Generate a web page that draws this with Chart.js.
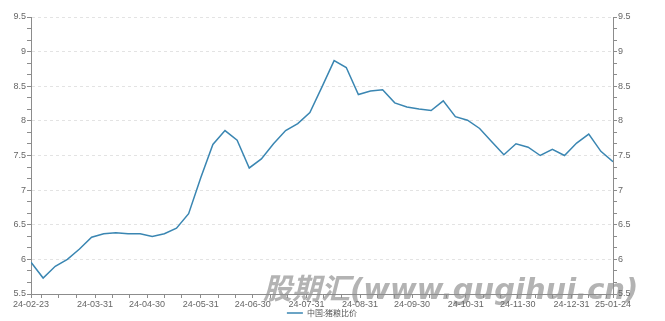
<!DOCTYPE html>
<html>
<head>
<meta charset="utf-8">
<script src="https://cdn.jsdelivr.net/npm/chart.js@4"></script>
<style>
  html, body { margin: 0; padding: 0; background: #fff; }
  #wrap { width: 665px; height: 321px; }
</style>
</head>
<body>
<div id="wrap"><canvas id="myChart" width="665" height="321"></canvas></div>
<script>
// weekly dates and 猪粮比价 values
var fechas = ["2024-02-23","2024-03-01","2024-03-08","2024-03-15","2024-03-22","2024-03-29",
  "2024-04-05","2024-04-12","2024-04-19","2024-04-26","2024-05-03","2024-05-10","2024-05-17",
  "2024-05-24","2024-05-31","2024-06-07","2024-06-14","2024-06-21","2024-06-28","2024-07-05",
  "2024-07-12","2024-07-19","2024-07-26","2024-08-02","2024-08-09","2024-08-16","2024-08-23",
  "2024-08-30","2024-09-06","2024-09-13","2024-09-20","2024-09-27","2024-10-04","2024-10-11",
  "2024-10-18","2024-10-25","2024-11-01","2024-11-08","2024-11-15","2024-11-22","2024-11-29",
  "2024-12-06","2024-12-13","2024-12-20","2024-12-27","2025-01-03","2025-01-10","2025-01-17",
  "2025-01-24"];
var valores = [5.96,5.73,5.90,6.00,6.15,6.32,6.37,6.385,6.37,6.37,6.33,6.37,6.45,
  6.66,7.18,7.66,7.86,7.72,7.32,7.45,7.67,7.86,7.96,8.12,8.49,8.87,8.77,
  8.38,8.43,8.45,8.26,8.20,8.17,8.15,8.29,8.06,8.01,7.89,7.70,7.51,7.67,
  7.62,7.50,7.59,7.50,7.68,7.81,7.56,7.41];
var serie = "中国:猪粮比价";
var yMin = 5.5, yMax = 9.5;

// days since the first date
function dias(s) {
  var p = s.split("-");
  return (Date.UTC(+p[0], +p[1] - 1, +p[2]) - Date.UTC(2024, 1, 23)) / 86400000;
}
var fin = dias(fechas[fechas.length - 1]);

// x ticks: start, 10th, 20th, month end, last date
var xTicks = [{ value: 0, label: "24-02-23" }];
for (var m = 1; m <= 12; m++) {
  var yy = 2024 + Math.floor(m / 12), mm = m % 12;
  var ult = new Date(Date.UTC(yy, mm + 1, 0)).getUTCDate();
  [10, 20, ult].forEach(function (d) {
    var s = yy + "-" + String(mm + 1).padStart(2, "0") + "-" + String(d).padStart(2, "0");
    var v = dias(s);
    if (v > 0 && v < fin) {
      xTicks.push({ value: v, label: (d === ult && v > 20) ? s.slice(2) : "" });
    }
  });
}
xTicks.push({ value: fin, label: fechas[fechas.length - 1].slice(2) });

var yTicks = [];
for (var k = 0; k <= 24; k++) yTicks.push(+(yMin + k / 6).toFixed(4));
function esMayor(v) { return Math.abs(v * 2 - Math.round(v * 2)) < 1e-3; }

var fuente = { family: "'Liberation Sans', Arial, sans-serif", size: 9 };

function ejeY(pos, ancho) {
  return {
    position: pos,
    min: yMin, max: yMax,
    afterBuildTicks: function (s) { s.ticks = yTicks.map(function (v) { return { value: v }; }); },
    afterFit: function (s) { s.width = ancho; },
    border: { display: true, color: "#8c8c8c", width: 1, dash: [3, 3] },
    grid: {
      drawOnChartArea: pos === "left",
      color: function (c) { return c.tick && esMayor(c.tick.value) ? "#e3e3e3" : "rgba(0,0,0,0)"; },
      tickColor: "#8c8c8c",
      tickLength: 4
    },
    ticks: {
      autoSkip: false,
      padding: 1,
      color: "#666",
      font: fuente,
      callback: function (v) { return esMayor(v) ? String(Math.round(v * 10) / 10) : ""; }
    }
  };
}

// watermark, drawn under the axes
var marcaAgua = {
  id: "marcaAgua",
  beforeDraw: function (chart) {
    var c = chart.ctx;
    c.save();
    c.font = "italic bold 29px 'DejaVu Sans', 'Noto Sans CJK SC', sans-serif";
    c.fillStyle = "rgba(160,160,160,0.8)";
    c.textBaseline = "alphabetic";
    c.fillText("股期汇(www.gugihui.cn)", 263, 299);
    c.restore();
  }
};

var ctx = document.getElementById("myChart");
new Chart(ctx, {
  type: "line",
  data: {
    datasets: [{
      label: serie,
      data: fechas.map(function (f, i) { return { x: dias(f), y: valores[i] }; }),
      borderColor: "#3a86b2",
      backgroundColor: "#3a86b2",
      borderWidth: 1.5,
      pointRadius: 0,
      tension: 0,
      yAxisID: "y"
    }]
  },
  options: {
    responsive: false,
    animation: false,
    layout: { padding: { top: 17, left: 0, right: 0, bottom: -6 } },
    scales: {
      x: {
        type: "linear",
        min: 0, max: fin,
        afterBuildTicks: function (s) { s.ticks = xTicks.map(function (t) { return { value: t.value }; }); },
        afterFit: function (s) { s.height = 13; },
        border: { display: true, color: "#8c8c8c", width: 1 },
        grid: { drawOnChartArea: false, tickColor: "#8c8c8c", tickLength: 4 },
        ticks: {
          autoSkip: false, maxRotation: 0, padding: 1,
          color: "#666", font: fuente,
          callback: function (v) {
            var t = xTicks.find(function (q) { return q.value === v; });
            return t ? t.label : "";
          }
        }
      },
      y: ejeY("left", 31),
      y2: ejeY("right", 52)
    },
    plugins: {
      legend: {
        position: "bottom",
        fullSize: false,
        labels: {
          usePointStyle: true, pointStyle: "line", pointStyleWidth: 16,
          boxHeight: 8, padding: 2,
          color: "#555", font: { family: "'Noto Sans CJK SC', sans-serif", size: 8 }
        }
      },
      tooltip: { enabled: false }
    }
  },
  plugins: [marcaAgua]
});
</script>
</body>
</html>
